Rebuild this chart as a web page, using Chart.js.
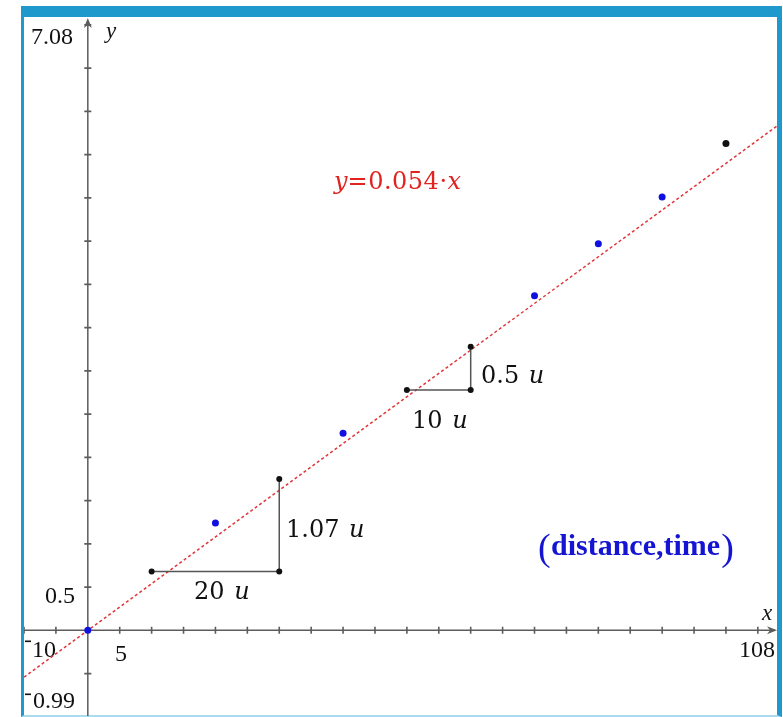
<!DOCTYPE html>
<html>
<head>
<meta charset="utf-8">
<title>distance, time</title>
<script src="https://cdn.jsdelivr.net/npm/chart.js@4.4.1/dist/chart.umd.min.js"></script>
<style>
  html, body { margin: 0; padding: 0; background: #fff; }
  body { width: 783px; height: 717px; position: relative; overflow: hidden; }
  #frame {
    position: absolute; left: 21px; top: 6px; width: 761px; height: 711px;
    border-top: 11px solid #1f98cc; border-left: 3px solid #1f98cc;
    border-right: 5px solid #1f98cc; border-bottom: 2px solid #a9dcef;
    box-sizing: border-box;
  }
  #graph { position: absolute; left: 24px; top: 18px; }
</style>
</head>
<body>
<div id="frame"></div>
<canvas id="graph" width="753" height="698"></canvas>
<script>
// janela do gráfico
const xMin = -10, xMax = 108;
const yMin = -0.99, yMax = 7.08;

// pontos (distância, tempo)
const distancias = [0, 20, 40, 70, 80, 90];
const tempos = [0, 1.24, 2.28, 3.87, 4.47, 5.01];
const pontoExtra = [100, 5.63];

// reta ajustada y = 0.054·x
const inclinacao = 0.054;
const retaX = [-10, 108];

// triângulos de inclinação: [x inicial, y inicial, deslocamento x, deslocamento y]
const triangulo1 = [10, 0.68, 20, 1.07];
const triangulo2 = [50, 2.78, 10, 0.5];

function pernas(t) {
    return [
        { x: t[0], y: t[1] },
        { x: t[0] + t[2], y: t[1] },
        { x: t[0] + t[2], y: t[1] + t[3] }
    ];
}

// escreve trechos de texto com fontes diferentes na mesma linha
function escrever(ctx, trechos, x, y, cor) {
    ctx.fillStyle = cor;
    ctx.textBaseline = 'alphabetic';
    ctx.textAlign = 'left';
    let pos = x;
    trechos.forEach(t => {
        ctx.font = t.font;
        ctx.letterSpacing = t.esp || '0px';
        ctx.fillText(t.txt, pos, y);
        pos += ctx.measureText(t.txt).width + (t.gap || 0);
    });
    ctx.letterSpacing = '0px';
}

const eixos = {
    id: 'eixos',
    beforeDatasetsDraw(chart) {
        const ctx = chart.ctx;
        const sx = chart.scales.x, sy = chart.scales.y;
        const x0 = sx.getPixelForValue(0), y0 = sy.getPixelForValue(0);
        const area = chart.chartArea;
        ctx.save();
        ctx.strokeStyle = '#5c5c5c';
        ctx.fillStyle = '#5c5c5c';
        ctx.lineWidth = 1.5;

        // eixo x
        ctx.beginPath();
        ctx.moveTo(area.left, y0);
        ctx.lineTo(area.right - 2, y0);
        ctx.stroke();
        ctx.beginPath();
        ctx.moveTo(area.right, y0);
        ctx.lineTo(area.right - 10, y0 - 4);
        ctx.lineTo(area.right - 7, y0);
        ctx.lineTo(area.right - 10, y0 + 4);
        ctx.closePath();
        ctx.fill();

        // eixo y
        ctx.beginPath();
        ctx.moveTo(x0, area.bottom);
        ctx.lineTo(x0, area.top + 3);
        ctx.stroke();
        ctx.beginPath();
        ctx.moveTo(x0, area.top);
        ctx.lineTo(x0 - 4, area.top + 10);
        ctx.lineTo(x0, area.top + 7);
        ctx.lineTo(x0 + 4, area.top + 10);
        ctx.closePath();
        ctx.fill();

        // marcas de escala
        ctx.lineWidth = 1.6;
        ctx.beginPath();
        for (let v = -10; v <= 105; v += 5) {
            if (v === 0) continue;
            const px = sx.getPixelForValue(v);
            ctx.moveTo(px, y0 - 3.5);
            ctx.lineTo(px, y0 + 3.5);
        }
        for (let v = -0.5; v <= 7; v += 0.5) {
            if (Math.abs(v) < 1e-9) continue;
            const py = sy.getPixelForValue(v);
            ctx.moveTo(x0 - 3.5, py);
            ctx.lineTo(x0 + 3.5, py);
        }
        ctx.stroke();

        // rótulos da janela
        ctx.fillStyle = '#111';
        ctx.font = '24px "Liberation Serif"';
        ctx.textBaseline = 'alphabetic';
        ctx.textAlign = 'left';
        ctx.fillText('7.08', 7, 26);
        ctx.fillText('0.5', 21, 585);
        ctx.fillText('10', 8, 639);
        ctx.fillText('5', 91, 643);
        ctx.textAlign = 'right';
        ctx.fillText('108', 751, 639);
        ctx.textAlign = 'left';
        ctx.fillText('0.99', 9, 690);
        // sinais negativos elevados
        ctx.fillRect(1, 622.5, 6, 1.6);
        ctx.fillRect(1, 675.5, 6, 1.6);

        ctx.font = 'italic 23px "Liberation Serif"';
        ctx.fillText('y', 82, 20);
        ctx.fillText('x', 738, 602);
        ctx.restore();
    },
    afterDatasetsDraw(chart) {
        const ctx = chart.ctx;
        const serif = '"DejaVu Serif"';
        ctx.save();
        escrever(ctx, [
            { txt: 'y', font: 'italic 24px ' + serif, esp: '0px' },
            { txt: '=0.054·', font: '24px ' + serif, esp: '0.5px' },
            { txt: 'x', font: 'italic 24px ' + serif }
        ], 310, 171, '#e2231f');

        const rotulo = (n, x, y) => escrever(ctx, [
            { txt: n + ' ', font: '24px ' + serif, gap: 2 },
            { txt: 'u', font: 'italic 24px ' + serif }
        ], x, y, '#111');
        rotulo('20', 170, 581);
        rotulo('1.07', 262, 519);
        rotulo('10', 388, 410);
        rotulo('0.5', 457, 365);

        // legenda da série
        ctx.fillStyle = '#1414d2';
        ctx.textBaseline = 'alphabetic';
        ctx.textAlign = 'left';
        ctx.font = '38px "Liberation Serif"';
        ctx.fillText('(', 514, 542);
        ctx.font = 'bold 30px "Liberation Serif"';
        ctx.fillText('distance,time', 527, 537);
        const w = ctx.measureText('distance,time').width;
        ctx.font = '38px "Liberation Serif"';
        ctx.fillText(')', 528 + w, 542);
        ctx.restore();
    }
};

new Chart(document.getElementById('graph'), {
    type: 'scatter',
    data: {
        datasets: [
            {
                data: distancias.map((d, i) => ({ x: d, y: tempos[i] })),
                backgroundColor: '#1010e0',
                borderWidth: 0,
                pointRadius: 3.5,
                order: 0
            },
            {
                data: [{ x: pontoExtra[0], y: pontoExtra[1] }],
                backgroundColor: '#111',
                borderWidth: 0,
                pointRadius: 3.5,
                order: 0
            },
            {
                type: 'line',
                data: pernas(triangulo1),
                borderColor: '#555',
                borderWidth: 1.5,
                pointBackgroundColor: '#111',
                pointBorderWidth: 0,
                pointRadius: 3,
                fill: false,
                order: 1
            },
            {
                type: 'line',
                data: pernas(triangulo2),
                borderColor: '#555',
                borderWidth: 1.5,
                pointBackgroundColor: '#111',
                pointBorderWidth: 0,
                pointRadius: 3,
                fill: false,
                order: 1
            },
            {
                type: 'line',
                data: retaX.map(x => ({ x: x, y: inclinacao * x })),
                borderColor: '#e2363a',
                borderWidth: 1.5,
                borderDash: [3, 2.5],
                pointRadius: 0,
                fill: false,
                order: 2
            }
        ]
    },
    options: {
        responsive: false,
        animation: false,
        devicePixelRatio: 1,
        layout: { padding: 0, autoPadding: false },
        plugins: {
            legend: { display: false },
            tooltip: { enabled: false }
        },
        scales: {
            x: { type: 'linear', min: xMin, max: xMax, display: false },
            y: { type: 'linear', min: yMin, max: yMax, display: false }
        }
    },
    plugins: [eixos]
});
</script>
</body>
</html>
